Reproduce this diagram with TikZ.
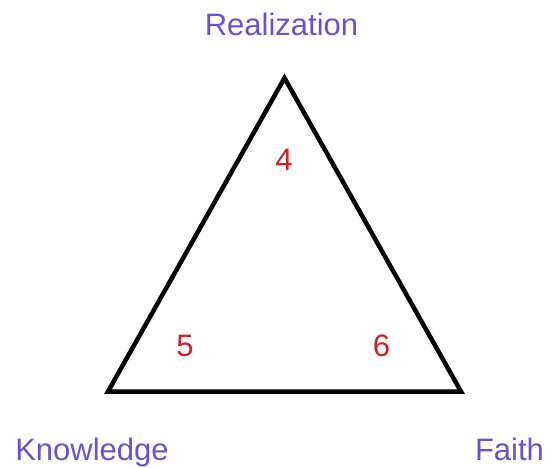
\documentclass[tikz,border=0pt]{standalone}
\usepackage{fontspec}
\setmainfont{Liberation Sans}
\definecolor{lblpurple}{RGB}{104,82,212}
\definecolor{numred}{RGB}{212,32,32}
\begin{document}
\begin{tikzpicture}[x=1pt,y=-1pt,
  vlabel/.style={anchor=base,inner sep=0pt,text=lblpurple,font=\fontsize{31}{31}\selectfont},
  numlabel/.style={anchor=base,inner sep=0pt,text=numred,font=\fontsize{31}{31}\selectfont},
  triline/.style={line width=4.5pt,line join=miter,black}]
\useasboundingbox (0,0) rectangle (559,467);
\coordinate (top) at (284.5,78);
\coordinate (bl) at (108,391.5);
\coordinate (br) at (461,391.5);
\draw[triline] (top) -- (br) -- (bl) -- cycle;
\node[vlabel] (real) at (281.5,35) {Realization};
\node[vlabel] (know) at (92,460) {Knowledge};
\node[vlabel] (faith) at (509.5,460) {Faith};
\node[numlabel] (n4) at (284,170) {4};
\node[numlabel] (n5) at (185,356) {5};
\node[numlabel] (n6) at (381.5,356) {6};
\end{tikzpicture}
\end{document}
